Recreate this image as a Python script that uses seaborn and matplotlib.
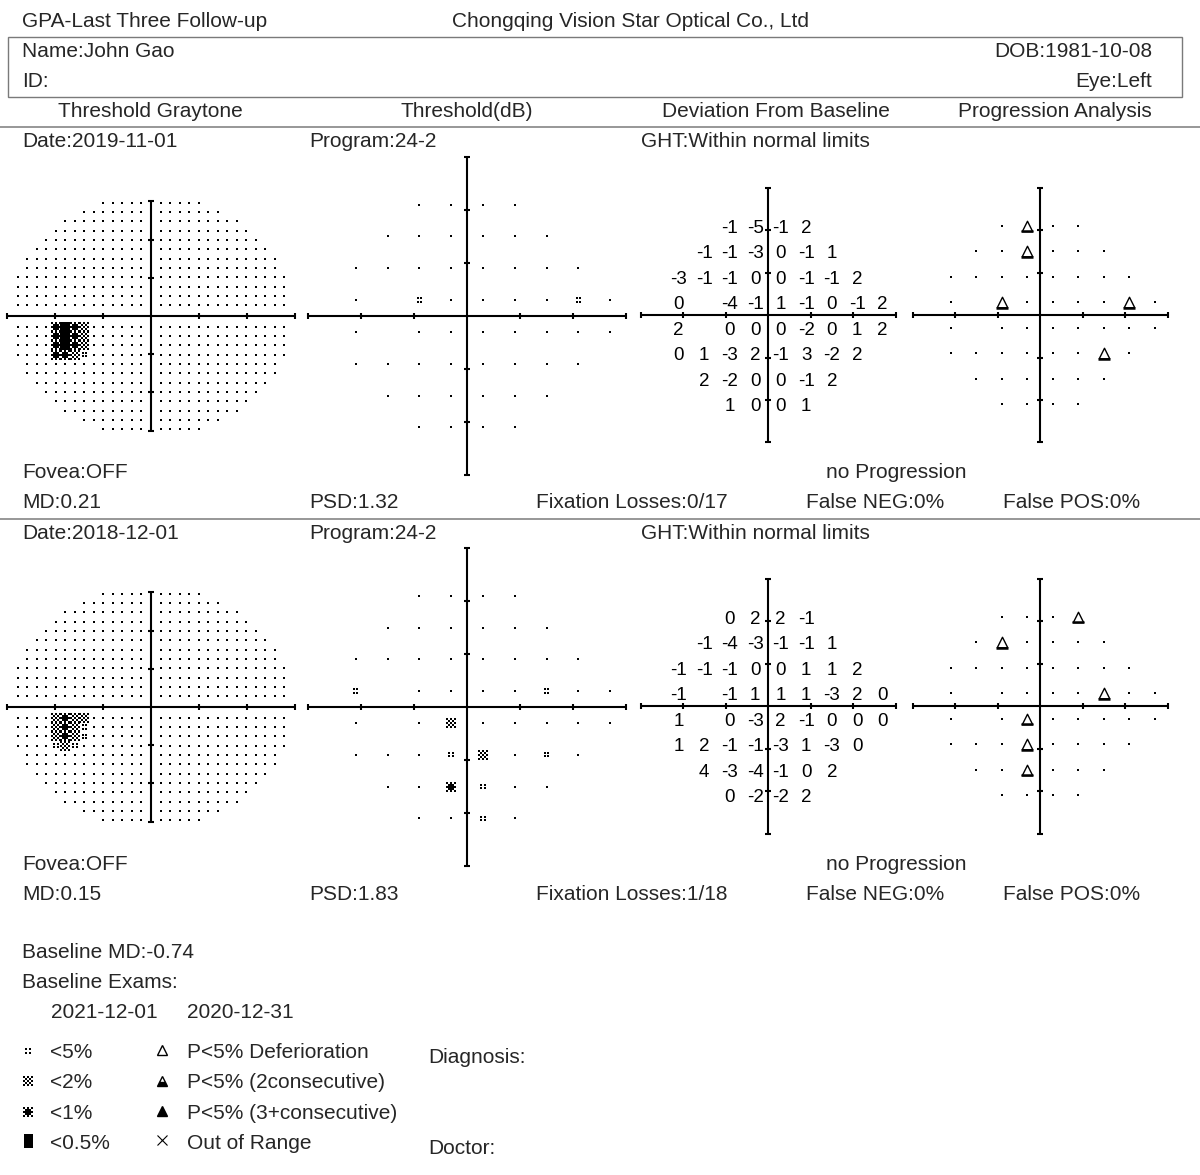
import matplotlib
matplotlib.use('Agg')
import matplotlib.pyplot as plt
from matplotlib.patches import Rectangle
import seaborn as sns

sns.set_theme(style='white')
plt.rcParams['font.family'] = ['Liberation Sans', 'DejaVu Sans']

# ---------------- data ----------------
# 24-2 test locations, left eye (blind spot at x=-15)
row_y = [21, 15, 9, 3, -3, -9, -15, -21]
row_x = [[-9, -3, 3, 9],
         [-15, -9, -3, 3, 9, 15],
         [-21, -15, -9, -3, 3, 9, 15, 21],
         [-21, -9, -3, 3, 9, 15, 21, 27],
         [-21, -9, -3, 3, 9, 15, 21, 27],
         [-21, -15, -9, -3, 3, 9, 15, 21],
         [-15, -9, -3, 3, 9, 15],
         [-9, -3, 3, 9]]

exam_dates = ['2019-11-01', '2018-12-01']
exam_md = ['0.21', '0.15']
exam_psd = ['1.32', '1.83']
exam_fix = ['0/17', '1/18']

# deviation from baseline, row by row
dev1 = [[-1, -5, -1, 2],
        [-1, -1, -3, 0, -1, 1],
        [-3, -1, -1, 0, 0, -1, -1, 2],
        [0, -4, -1, 1, -1, 0, -1, 2],
        [2, 0, 0, 0, -2, 0, 1, 2],
        [0, 1, -3, 2, -1, 3, -2, 2],
        [2, -2, 0, 0, -1, 2],
        [1, 0, 0, 1]]
dev2 = [[0, 2, 2, -1],
        [-1, -4, -3, -1, -1, 1],
        [-1, -1, -1, 0, 0, 1, 1, 2],
        [-1, -1, 1, 1, 1, -3, 2, 0],
        [1, 0, -3, 2, -1, 0, 0, 0],
        [1, 2, -1, -1, -3, 1, -3, 0],
        [4, -3, -4, -1, 0, 2],
        [0, -2, -2, 2]]

# threshold probability symbols (x, y, level) 1:<5% 2:<2% 3:<1% 4:<0.5%
thr_marks1 = [(-9, 3, 1), (21, 3, 1)]
thr_marks2 = [(-21, 3, 1), (15, 3, 1), (-3, -3, 2), (-3, -9, 1), (3, -9, 2),
              (15, -9, 1), (-3, -15, 3), (3, -15, 1), (3, -21, 1)]

# progression: P<5% deterioration locations
prog_tri1 = [(-3, 21), (-3, 15), (-9, 3), (21, 3), (15, -9)]
prog_tri2 = [(9, 21), (-9, 15), (15, 3), (-3, -3), (-3, -9), (-3, -15)]

# graytone: dark cells in the lower-left quadrant (column k, row j, level)
gray_cells1 = [(9, 0, 3), (9, 1, 3), (9, 2, 3), (9, 3, 3),
               (8, 0, 4), (8, 1, 4), (8, 2, 4), (8, 3, 3),
               (7, 0, 3), (7, 1, 3), (7, 2, 3), (7, 3, 2),
               (6, 0, 2), (6, 1, 2), (6, 2, 2), (6, 3, 1)]
gray_cells2 = [(9, 0, 2), (9, 1, 2), (9, 2, 2), (9, 3, 1),
               (8, 0, 3), (8, 1, 3), (8, 2, 3), (8, 3, 2),
               (7, 0, 2), (7, 1, 2), (7, 2, 2), (7, 3, 1),
               (6, 0, 2), (6, 1, 1), (6, 2, 1)]

W, H = 1200, 1175
FS = 15

fig = plt.figure(figsize=(12, 11.75), dpi=100)
base = fig.add_axes([0, 0, 1, 1])
base.set_xlim(0, W)
base.set_ylim(H, 0)
base.axis('off')


def px2s(px):
    return (px * 0.72) ** 2


def cell_pattern(level):
    if level == 0:
        return [(0.0, 0.0)], 1.7
    if level == 1:
        return [(dx, dy) for dx in (-1.7, 1.7) for dy in (-1.7, 1.7)], 1.5
    if level == 2:
        grid = [(2.0 * (i - 2), 2.0 * (j - 2)) for i in range(5) for j in range(5)
                if (i + j) % 2 == 0]
        return grid, 1.4
    if level == 3:
        grid = [(2.0 * (i - 2), 2.0 * (j - 2)) for i in range(5) for j in range(5)
                if (i + j) % 2 == 0 or i == 2 or j == 2]
        return grid, 1.9
    return [(0.0, 0.0)], 9.6


def stamp(ax, pts, sx, sy):
    groups = {}
    for x, y, lev in pts:
        offs, size = cell_pattern(lev)
        g = groups.setdefault(size, ([], []))
        for dx, dy in offs:
            g[0].append(x + dx / sx)
            g[1].append(y + dy / sy)
    for size, (xs, ys) in groups.items():
        sns.scatterplot(x=xs, y=ys, ax=ax, marker='s', s=px2s(size),
                        color='black', linewidth=0, legend=False, clip_on=False)


def panel(cx, cy, sx, sy):
    ax = fig.add_axes([(cx - 30 * sx) / W, 1 - (cy + 30 * sy) / H,
                       60 * sx / W, 60 * sy / H])
    ax.set_xlim(-30, 30)
    ax.set_ylim(-30, 30)
    ax.axis('off')
    ax.patch.set_alpha(0)
    kw = dict(color='black', lw=1.5, solid_capstyle='butt', clip_on=False)
    ax.plot([-30, 30], [0, 0], **kw)
    ax.plot([0, 0], [-30, 30], **kw)
    for t in (-30, -20, -10, 10, 20, 30):
        ax.plot([t, t], [-2.6 / sy, 2.6 / sy], **kw)
        ax.plot([-2.6 / sx, 2.6 / sx], [t, t], **kw)
    return ax


def locations():
    pts = []
    for y, xs in zip(row_y, row_x):
        for x in xs:
            pts.append((x, y))
    return pts


def triangles(ax, pts, sy, size=10.5):
    xs = [p[0] for p in pts]
    ys = [p[1] for p in pts]
    ax.scatter(xs, ys, marker='^', s=px2s(size), facecolors='white',
               edgecolors='black', linewidths=1.0, clip_on=False, zorder=3)
    ax.scatter(xs, [y - (size / 2) / sy for y in ys], marker='_', s=px2s(size + 2),
               color='black', linewidths=1.8, clip_on=False, zorder=3)


exams = [(exam_dates[0], dev1, thr_marks1, prog_tri1, gray_cells1),
         (exam_dates[1], dev2, thr_marks2, prog_tri2, gray_cells2)]

for e, (date, dev, marks, tris, cells) in enumerate(exams):
    oy = 391 * e
    ty = 392 * e

    # --- threshold graytone ---
    sx, sy = 4.8, 3.82
    ax1 = panel(151, 316 + oy, sx, sy)
    cell_lev = {(k, j): lev for k, j, lev in cells}
    gpts = []
    for xn in (-1, 1):
        for yn in (-1, 1):
            for k in range(14):
                for j in range(12):
                    x = xn * (2.0 + 1.98 * k)
                    y = yn * (2.75 + 2.45 * j)
                    if (x / 29.5) ** 2 + (y / 32.0) ** 2 > 1:
                        continue
                    lev = cell_lev.get((k, j), 0) if (xn < 0 and yn < 0) else 0
                    gpts.append((x, y, lev))
    stamp(ax1, gpts, sx, sy)

    # --- threshold (dB) probability map ---
    sx = sy = 5.3
    ax2 = panel(467, 316 + oy, sx, sy)
    mk = {(x, y): lev for x, y, lev in marks}
    stamp(ax2, [(x, y, mk.get((x, y), 0)) for x, y in locations()], sx, sy)

    # --- deviation from baseline ---
    sx = sy = 4.25
    ax3 = panel(768, 315 + oy, sx, sy)
    for y, xs, vals in zip(row_y, row_x, dev):
        for x, v in zip(xs, vals):
            ax3.text(x, y - 6.8 / sy, str(v), ha='center', va='baseline',
                     fontsize=13.5, color='black')

    # --- progression analysis ---
    ax4 = panel(1040, 315 + oy, sx, sy)
    plain = [(x, y, 0) for x, y in locations() if (x, y) not in tris]
    stamp(ax4, plain, sx, sy)
    triangles(ax4, tris, sy)

    # --- texts for this exam ---
    base.text(22, 147 + ty, 'Date:' + date, fontsize=FS, va='baseline')
    base.text(309, 147 + ty, 'Program:24-2', fontsize=FS, va='baseline')
    base.text(641, 147 + ty, 'GHT:Within normal limits', fontsize=FS, va='baseline')
    base.text(22, 478 + ty, 'Fovea:OFF', fontsize=FS, va='baseline')
    base.text(896, 478 + ty, 'no Progression', fontsize=FS, va='baseline', ha='center')
    base.text(22, 508 + ty, 'MD:' + exam_md[e], fontsize=FS, va='baseline')
    base.text(309, 508 + ty, 'PSD:' + exam_psd[e], fontsize=FS, va='baseline')
    base.text(536, 508 + ty, 'Fixation Losses:' + exam_fix[e], fontsize=FS, va='baseline')
    base.text(806, 508 + ty, 'False NEG:0%', fontsize=FS, va='baseline')
    base.text(1003, 508 + ty, 'False POS:0%', fontsize=FS, va='baseline')

# ---------------- header ----------------
base.text(22, 27, 'GPA-Last Three Follow-up', fontsize=FS, va='baseline')
base.text(631, 27, 'Chongqing Vision Star Optical Co., Ltd', fontsize=FS,
          va='baseline', ha='center')
base.add_patch(Rectangle((8, 37), 1174, 60, fill=False, edgecolor='#7a7a7a', lw=1))
base.text(22, 57, 'Name:John Gao', fontsize=FS, va='baseline')
base.text(1152, 57, 'DOB:1981-10-08', fontsize=FS, va='baseline', ha='right')
base.text(22, 87, 'ID:', fontsize=FS, va='baseline')
base.text(1152, 87, 'Eye:Left', fontsize=FS, va='baseline', ha='right')
for cx, title in [(150, 'Threshold Graytone'), (467, 'Threshold(dB)'),
                  (776, 'Deviation From Baseline'), (1055, 'Progression Analysis')]:
    base.text(cx, 117, title, fontsize=FS, va='baseline', ha='center')
for ly in (127, 519):
    base.plot([0, W], [ly, ly], color='#7a7a7a', lw=1.1)

# ---------------- footer ----------------
base.text(22, 958, 'Baseline MD:-0.74', fontsize=FS, va='baseline')
base.text(22, 988, 'Baseline Exams:', fontsize=FS, va='baseline')
base.text(51, 1018, '2021-12-01', fontsize=FS, va='baseline')
base.text(187, 1018, '2020-12-31', fontsize=FS, va='baseline')

legend_left = ['<5%', '<2%', '<1%', '<0.5%']
legend_right = ['P<5% Deferioration', 'P<5% (2consecutive)',
                'P<5% (3+consecutive)', 'Out of Range']
leg_y = [1051, 1081, 1112, 1142]
stamp(base, [(28, leg_y[0], 1), (28, leg_y[1], 2), (28, leg_y[2], 3)], 1, -1)
base.add_patch(Rectangle((23.5, 1134), 9, 14, color='black', lw=0))
for y, lab in zip(leg_y, legend_left):
    base.text(50, y + 7, lab, fontsize=FS, va='baseline')
for y, lab in zip(leg_y, legend_right):
    base.text(187, y + 7, lab, fontsize=FS, va='baseline')
base.plot([162], [1050], marker='^', ms=6.5, mfc='white', mec='black', mew=1.0, ls='none')
base.plot([162], [1081], marker='^', ms=6.5, mfc='black', mfcalt='white',
          fillstyle='bottom', mec='black', mew=1.0, ls='none')
base.plot([162], [1111], marker='^', ms=6.5, mfc='black', mec='black', mew=1.0, ls='none')
base.plot([162], [1140], marker='x', ms=7, mec='black', mew=0.8, ls='none')

base.text(428, 1063, 'Diagnosis:', fontsize=FS, va='baseline')
base.text(428, 1154, 'Doctor:', fontsize=FS, va='baseline')

fig.savefig('out.png', dpi=100, facecolor='white')
